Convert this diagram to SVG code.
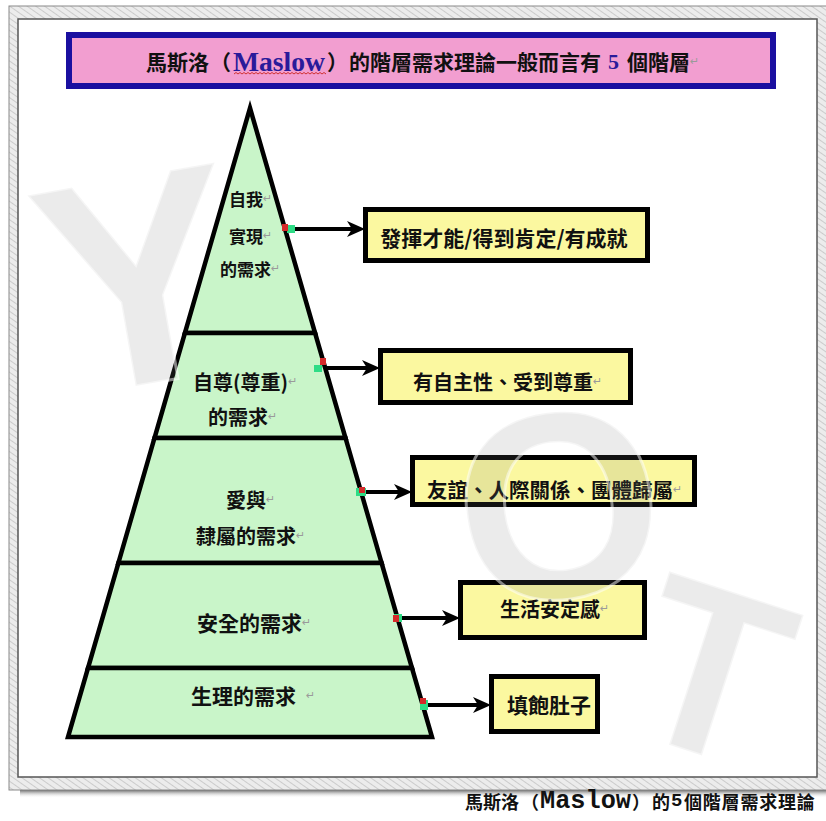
<svg xmlns="http://www.w3.org/2000/svg" width="826" height="821" viewBox="0 0 826 821">
<defs>
  <pattern id="hatch" width="5" height="5" patternUnits="userSpaceOnUse" patternTransform="rotate(-55)">
    <rect width="5" height="5" fill="#ececec"/>
    <line x1="0" y1="0" x2="0" y2="5" stroke="#bdbdbd" stroke-width="1.4"/>
  </pattern>
  <linearGradient id="shadow" x1="0" y1="0" x2="0" y2="1">
    <stop offset="0" stop-color="#6a6a6a"/>
    <stop offset="1" stop-color="#ffffff" stop-opacity="0"/>
  </linearGradient>
  <marker id="ah" viewBox="0 0 18 16" refX="8" refY="8" markerWidth="18" markerHeight="16" markerUnits="userSpaceOnUse" orient="auto">
    <path d="M0,0 L18,8 L0,16 L5,8 z" fill="#000"/>
  </marker>
  <style>
    .cjk{font-family:"Noto Sans CJK TC","Noto Sans CJK SC",sans-serif;font-weight:700;fill:#111}
    .ret{font-family:"DejaVu Sans",sans-serif;font-weight:400;fill:#9a9a9a;font-size:11px}
    .tier{fill:#c9f5c9;stroke:#000;stroke-width:4.5;stroke-linejoin:miter}
    .box{fill:#fbf8a0;stroke:#000;stroke-width:5}
    .conn{stroke:#000;stroke-width:4;fill:none;marker-end:url(#ah)}
    .red{fill:#d42a2a}
    .grn{fill:#2fdc86}
    .wm{font-family:"Liberation Sans",Arial,sans-serif;font-weight:700;fill:#7a7a7a;fill-opacity:0.15;stroke:#ffffff;stroke-opacity:0.5;stroke-width:3}
  </style>
</defs>

<!-- page frame -->
<rect x="0" y="0" width="826" height="821" fill="#ffffff"/>
<rect x="20" y="790" width="806" height="8" fill="url(#shadow)"/>
<rect x="9" y="6" width="830" height="784" fill="url(#hatch)" stroke="#8a8a8a" stroke-width="1"/>
<rect x="18" y="19" width="799" height="758" fill="#ffffff" stroke="#555555" stroke-width="1.5"/>

<!-- title -->
<g id="title">
  <rect x="69" y="35" width="704" height="51" fill="#f29ed0" stroke="#1a0fa0" stroke-width="6"/>
  <text class="cjk" y="61" font-size="21" dominant-baseline="central"><tspan x="146">馬斯洛</tspan><tspan x="210">（</tspan><tspan x="233" font-family="Liberation Serif, serif" font-weight="700" font-size="28" fill="#2a1a9a" textLength="92" lengthAdjust="spacingAndGlyphs">Maslow</tspan><tspan x="327">）</tspan><tspan x="349">的階層需求理論一般而言有</tspan><tspan x="608" font-family="Liberation Serif, serif" font-size="22" fill="#2a1a9a">5</tspan><tspan x="627">個階層</tspan><tspan class="ret" x="690">↵</tspan></text>
  <path d="M234,74 l2,-1.5 l2,1.5 l2,-1.5 l2,1.5 l2,-1.5 l2,1.5 l2,-1.5 l2,1.5 l2,-1.5 l2,1.5 l2,-1.5 l2,1.5 l2,-1.5 l2,1.5 l2,-1.5 l2,1.5 l2,-1.5 l2,1.5 l2,-1.5 l2,1.5 l2,-1.5 l2,1.5 l2,-1.5 l2,1.5 l2,-1.5 l2,1.5 l2,-1.5 l2,1.5 l2,-1.5 l2,1.5 l2,-1.5 l2,1.5 l2,-1.5 l2,1.5 l2,-1.5 l2,1.5 l2,-1.5 l2,1.5 l2,-1.5 l2,1.5 l2,-1.5 l2,1.5 l2,-1.5 l2,1.5 l2,-1.5 l2,1.5" fill="none" stroke="#d03030" stroke-width="1"/>
</g>

<!-- pyramid tiers -->
<g id="tier-self-actualization">
  <polygon class="tier" points="250,108 315.1,333 184.9,333"/>
  <text class="cjk" font-size="17" dominant-baseline="central"><tspan x="229" y="198">自我</tspan><tspan class="ret">↵</tspan></text>
  <text class="cjk" font-size="17" dominant-baseline="central"><tspan x="229" y="235">實現</tspan><tspan class="ret">↵</tspan></text>
  <text class="cjk" font-size="17" dominant-baseline="central"><tspan x="220" y="268">的需求</tspan><tspan class="ret">↵</tspan></text>
</g>
<g id="tier-esteem">
  <polygon class="tier" points="184.9,333 315.1,333 345.5,438 154.5,438"/>
  <text class="cjk" font-size="20" dominant-baseline="central"><tspan x="193" y="381">自尊(尊重)</tspan><tspan class="ret">↵</tspan></text>
  <text class="cjk" font-size="20" dominant-baseline="central"><tspan x="208" y="416">的需求</tspan><tspan class="ret">↵</tspan></text>
</g>
<g id="tier-belonging">
  <polygon class="tier" points="154.5,438 345.5,438 381.6,563 118.4,563"/>
  <text class="cjk" font-size="20" dominant-baseline="central"><tspan x="226" y="499">愛與</tspan><tspan class="ret">↵</tspan></text>
  <text class="cjk" font-size="20" dominant-baseline="central"><tspan x="196" y="535">隸屬的需求</tspan><tspan class="ret">↵</tspan></text>
</g>
<g id="tier-safety">
  <polygon class="tier" points="118.4,563 381.6,563 412,668 88,668"/>
  <text class="cjk" font-size="21" dominant-baseline="central"><tspan x="197" y="622">安全的需求</tspan><tspan class="ret">↵</tspan></text>
</g>
<g id="tier-physiological">
  <polygon class="tier" points="88,668 412,668 432,737 68,737"/>
  <text class="cjk" font-size="21" dominant-baseline="central"><tspan x="191" y="695">生理的需求</tspan><tspan class="ret" dx="10">↵</tspan></text>
</g>

<!-- connectors -->
<g id="connectors">
  <path class="conn" d="M287,229 H355"/>
  <path class="conn" d="M326,368 H370"/>
  <path class="conn" d="M362,492 H402"/>
  <path class="conn" d="M398,618 H450"/>
  <path class="conn" d="M423,705 H481"/>
  <rect class="grn" x="287" y="225" width="8" height="8"/>
  <rect class="red" x="282" y="224" width="6" height="7"/>
  <rect class="grn" x="314" y="365" width="8" height="7"/>
  <rect class="red" x="320" y="358" width="6" height="7"/>
  <rect class="grn" x="356" y="488" width="10" height="8"/>
  <rect class="red" x="359" y="487" width="6" height="6"/>
  <rect class="grn" x="394" y="614" width="8" height="8"/>
  <rect class="red" x="393" y="615" width="6" height="7"/>
  <rect class="grn" x="420" y="700" width="8" height="10"/>
  <rect class="red" x="420" y="698" width="6" height="6"/>
</g>

<!-- outcome boxes -->
<g id="box-achievement">
  <rect class="box" x="365.5" y="209.5" width="282" height="51"/>
  <text class="cjk" x="504" y="237" font-size="21" text-anchor="middle" dominant-baseline="central">發揮才能/得到肯定/有成就</text>
</g>
<g id="box-respect">
  <rect class="box" x="380.5" y="350.5" width="250" height="52"/>
  <text class="cjk" font-size="20" dominant-baseline="central"><tspan x="413" y="381">有自主性、受到尊重</tspan><tspan class="ret">↵</tspan></text>
</g>
<g id="box-friendship">
  <rect class="box" x="412.5" y="457.5" width="282" height="47"/>
  <text class="cjk" font-size="20.5" dominant-baseline="central"><tspan x="427" y="489">友誼、人際關係、團體歸屬</tspan><tspan class="ret">↵</tspan></text>
</g>
<g id="box-security">
  <rect class="box" x="460.5" y="582.5" width="184" height="55"/>
  <text class="cjk" font-size="20" dominant-baseline="central"><tspan x="500" y="608">生活安定感</tspan><tspan class="ret">↵</tspan></text>
</g>
<g id="box-food">
  <rect class="box" x="491.5" y="676.5" width="106" height="55"/>
  <text class="cjk" x="507" y="704" font-size="21" dominant-baseline="central">填飽肚子</text>
</g>

<!-- faint watermark over the drawing -->
<g id="watermark">
  <text class="wm" x="35" y="385" font-size="300" transform="rotate(-10 130 260)">Y</text>
  <text class="wm" x="455" y="597" font-size="265" transform="rotate(-8 560 500)">O</text>
  <text class="wm" x="640" y="755" font-size="240" transform="rotate(18 715 665)">T</text>
</g>

<!-- caption -->
<text class="cjk" y="801" font-size="18" dominant-baseline="central" fill="#111"><tspan x="465">馬斯洛</tspan><tspan x="521">（</tspan><tspan x="540" font-family="Liberation Mono, monospace" font-size="25" textLength="91" lengthAdjust="spacingAndGlyphs">Maslow</tspan><tspan x="632">）</tspan><tspan x="652">的</tspan><tspan x="671" font-family="Liberation Mono, monospace" font-size="19">5</tspan><tspan x="684" letter-spacing="0.8">個階層需求理論</tspan></text>
</svg>
